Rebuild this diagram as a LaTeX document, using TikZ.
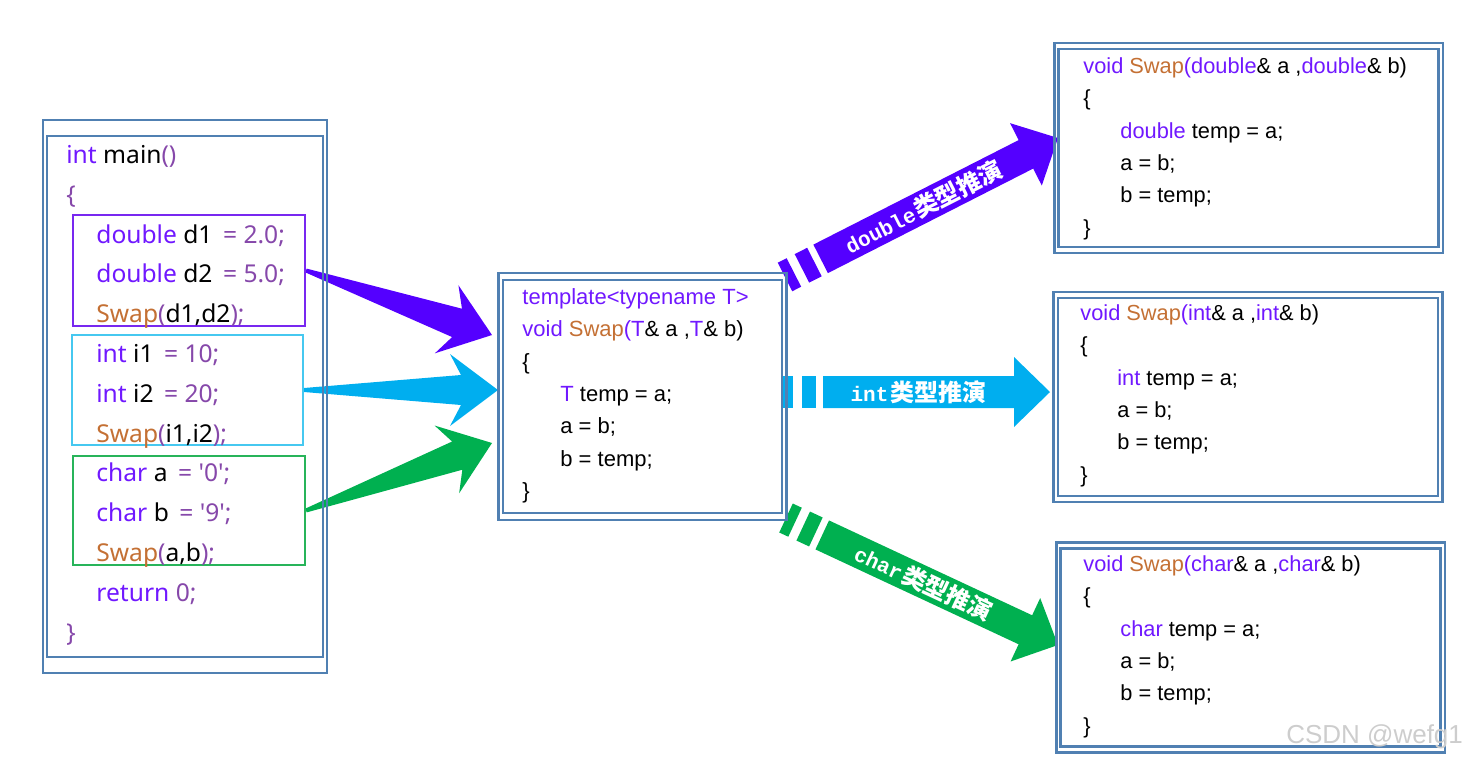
\documentclass[tikz,border=0pt]{standalone}
\usepackage{fontspec}
\setmainfont{Liberation Sans}
\newfontfamily\codefont{Noto Sans}
\newfontfamily\arialfont{Liberation Sans}
\newfontfamily\labelmono{Liberation Mono}
\newfontfamily\cjkfont{Noto Sans CJK SC}
\usetikzlibrary{calc,fit,positioning,backgrounds}

\definecolor{frameblue}{RGB}{80,128,178}
\definecolor{kwviolet}{RGB}{112,24,255}
\definecolor{fnbrown}{RGB}{196,112,52}
\definecolor{litmauve}{RGB}{134,72,170}
\definecolor{arrpurple}{RGB}{84,0,255}
\definecolor{arrcyan}{RGB}{0,174,239}
\definecolor{arrgreen}{RGB}{0,176,80}
\definecolor{boxpurple}{RGB}{120,40,240}
\definecolor{boxcyan}{RGB}{70,200,240}
\definecolor{boxgreen}{RGB}{40,180,90}
\definecolor{markgray}{RGB}{205,205,205}

\newcommand{\ckw}[1]{\textcolor{kwviolet}{#1}}
\newcommand{\cfn}[1]{\textcolor{fnbrown}{#1}}
\newcommand{\clit}[1]{\textcolor{litmauve}{#1}}

% wide wedge arrow: colour, from, to
\newcommand{\wedgearrow}[3]{%
  \fill[#1] ($(#2)!1pt!90:(#3)$)
    -- ($(#3)!18.5pt!(#2)!7.5pt!-90:(#2)$)
    -- ($(#3)!24pt!(#2)!18pt!-90:(#2)$)
    -- (#3)
    -- ($(#3)!24pt!(#2)!18pt!90:(#2)$)
    -- ($(#3)!18.5pt!(#2)!7.5pt!90:(#2)$)
    -- ($(#2)!1pt!-90:(#3)$) -- cycle;}

% banner arrow with two blocks: colour, from, to, label
\newcommand{\bandarrow}[4]{%
  \fill[#1] ($(#2)!8pt!90:(#3)$) -- ($(#2)!5pt!(#3)!8pt!90:(#3)$)
    -- ($(#2)!5pt!(#3)!8pt!-90:(#3)$) -- ($(#2)!8pt!-90:(#3)$) -- cycle;
  \fill[#1] ($(#2)!9.5pt!(#3)!8pt!90:(#3)$) -- ($(#2)!16.5pt!(#3)!8pt!90:(#3)$)
    -- ($(#2)!16.5pt!(#3)!8pt!-90:(#3)$) -- ($(#2)!9.5pt!(#3)!8pt!-90:(#3)$) -- cycle;
  \fill[#1] ($(#2)!20pt!(#3)!8pt!90:(#3)$)
    -- ($(#3)!18pt!(#2)!8pt!-90:(#2)$)
    -- ($(#3)!18pt!(#2)!17.5pt!-90:(#2)$)
    -- (#3)
    -- ($(#3)!18pt!(#2)!17.5pt!90:(#2)$)
    -- ($(#3)!18pt!(#2)!8pt!90:(#2)$)
    -- ($(#2)!20pt!(#3)!8pt!-90:(#3)$) -- cycle;
  \path ($(#2)!20pt!(#3)$) -- node[sloped, text=white, inner sep=0pt] {#4} ($(#3)!18pt!(#2)$);}

\newcommand{\typelabel}[1]{{\labelmono\bfseries\fontsize{10.5}{11}\selectfont #1}\kern1pt{\cjkfont\bfseries\fontsize{12}{12}\selectfont 类型推演}}

\tikzset{
  codeframe/.style={draw=frameblue, line width=1.4pt, inner sep=0pt},
  subbox/.style={draw=#1, line width=1pt, inner sep=0pt},
  codetext/.style={anchor=north west, inner sep=0pt, align=left},
  rightbox/.style={codeframe, minimum width=190pt, minimum height=99pt},
  rightcode/.style={codetext, font=\arialfont\fontsize{10.9}{16.2}\selectfont},
}

\begin{document}
\begin{tikzpicture}[x=0.5pt,y=-0.5pt]
  \useasboundingbox (0,0) rectangle (1474,762);

  % main()
  \node[codeframe, minimum width=138pt, minimum height=260.5pt] (mainin) at (185,396.5) {};
  \node[codeframe, fit=(mainin), inner xsep=1.3pt, inner ysep=7.3pt] (mainout) {};
  \node[subbox=boxpurple, minimum width=116pt, minimum height=55.5pt] (dbox) at (189,270.5) {};
  \node[subbox=boxcyan, minimum width=115.5pt, minimum height=55pt] (ibox) at (187.5,390) {};
  \node[subbox=boxgreen, minimum width=116pt, minimum height=54.5pt] (cbox) at (189,510.5) {};
  \node[codetext, font=\codefont\fontsize{12.3}{19.9}\selectfont] (maincode) at (66,145) {%
    \ckw{int} main\clit{()}\\
    \clit{\{}\\
    \hspace*{15pt}\ckw{double} d1 \,\clit{= 2.0;}\\
    \hspace*{15pt}\ckw{double} d2 \,\clit{= 5.0;}\\
    \hspace*{15pt}\cfn{Swap}\clit{(}d1,d2\clit{);}\\
    \hspace*{15pt}\ckw{int} i1 \,\clit{= 10;}\\
    \hspace*{15pt}\ckw{int} i2 \,\clit{= 20;}\\
    \hspace*{15pt}\cfn{Swap}\clit{(}i1,i2\clit{);}\\
    \hspace*{15pt}\ckw{char} a \,\clit{= '0';}\\
    \hspace*{15pt}\ckw{char} b \,\clit{= '9';}\\
    \hspace*{15pt}\cfn{Swap}\clit{(}a,b\clit{);}\\
    \hspace*{15pt}\ckw{return} \clit{0;}\\
    \clit{\}}};

  % template
  \node[codeframe, minimum width=139.5pt, minimum height=116.5pt] (tmplin) at (642.5,396.5) {};
  \node[codeframe, fit=(tmplin), inner xsep=1.5pt, inner ysep=2.8pt] (tmplout) {};
  \node[codetext, font=\arialfont\fontsize{11}{16.2}\selectfont] (tmplcode) at (522,288) {%
    \ckw{template<typename T>}\\
    \ckw{void} \cfn{Swap}\ckw{(T}\& a ,\ckw{T}\& b)\\
    \{\\
    \hspace*{19pt}\ckw{T} temp = a;\\
    \hspace*{19pt}a = b;\\
    \hspace*{19pt}b = temp;\\
    \}};

  % instantiations
  \node[rightbox] (dblin) at (1248.5,148) {};
  \node[codeframe, fit=(dblin), inner xsep=1.5pt, inner ysep=2.3pt] (dblout) {};
  \node[rightbox] (intin) at (1248,397) {};
  \node[codeframe, fit=(intin), inner xsep=1.5pt, inner ysep=2.3pt] (intout) {};
  \node[rightbox] (chrin) at (1250.5,647.5) {};
  \node[codeframe, fit=(chrin), inner xsep=1.5pt, inner ysep=2.3pt] (chrout) {};

  \node[rightcode] (dblcode) at (1083,57) {%
    \ckw{void} \cfn{Swap}\ckw{(double}\& a ,\ckw{double}\& b)\\
    \{\\
    \hspace*{18.5pt}\ckw{double} temp = a;\\
    \hspace*{18.5pt}a = b;\\
    \hspace*{18.5pt}b = temp;\\
    \}};
  \node[rightcode] (intcode) at (1080,304) {%
    \ckw{void} \cfn{Swap}\ckw{(int}\& a ,\ckw{int}\& b)\\
    \{\\
    \hspace*{18.5pt}\ckw{int} temp = a;\\
    \hspace*{18.5pt}a = b;\\
    \hspace*{18.5pt}b = temp;\\
    \}};
  \node[rightcode] (chrcode) at (1083,555) {%
    \ckw{void} \cfn{Swap}\ckw{(char}\& a ,\ckw{char}\& b)\\
    \{\\
    \hspace*{18.5pt}\ckw{char} temp = a;\\
    \hspace*{18.5pt}a = b;\\
    \hspace*{18.5pt}b = temp;\\
    \}};

  \node[text=markgray, font=\arialfont\fontsize{13}{13}\selectfont, anchor=east] (mark) at (1470,737) {CSDN @wefg1};

  % arrows
  \coordinate (dtip) at (492,335);
  \coordinate (itip) at (498,390);
  \coordinate (ctip) at (492,443);
  \coordinate (dstart) at (785,277);
  \coordinate (istart) at (783,392);
  \coordinate (cstart) at (786,518);
  \coordinate (dend) at (1058,138);
  \coordinate (iend) at (1050,392);
  \coordinate (cend) at (1058,645);
  \begin{scope}[on background layer]
    \wedgearrow{arrpurple}{dbox.east}{dtip}
    \wedgearrow{arrcyan}{ibox.east}{itip}
    \wedgearrow{arrgreen}{cbox.east}{ctip}
    \bandarrow{arrpurple}{dstart}{dend}{\typelabel{double}}
    \bandarrow{arrcyan}{istart}{iend}{\typelabel{int}}
    \bandarrow{arrgreen}{cstart}{cend}{\typelabel{char}}
  \end{scope}
\end{tikzpicture}
\end{document}
